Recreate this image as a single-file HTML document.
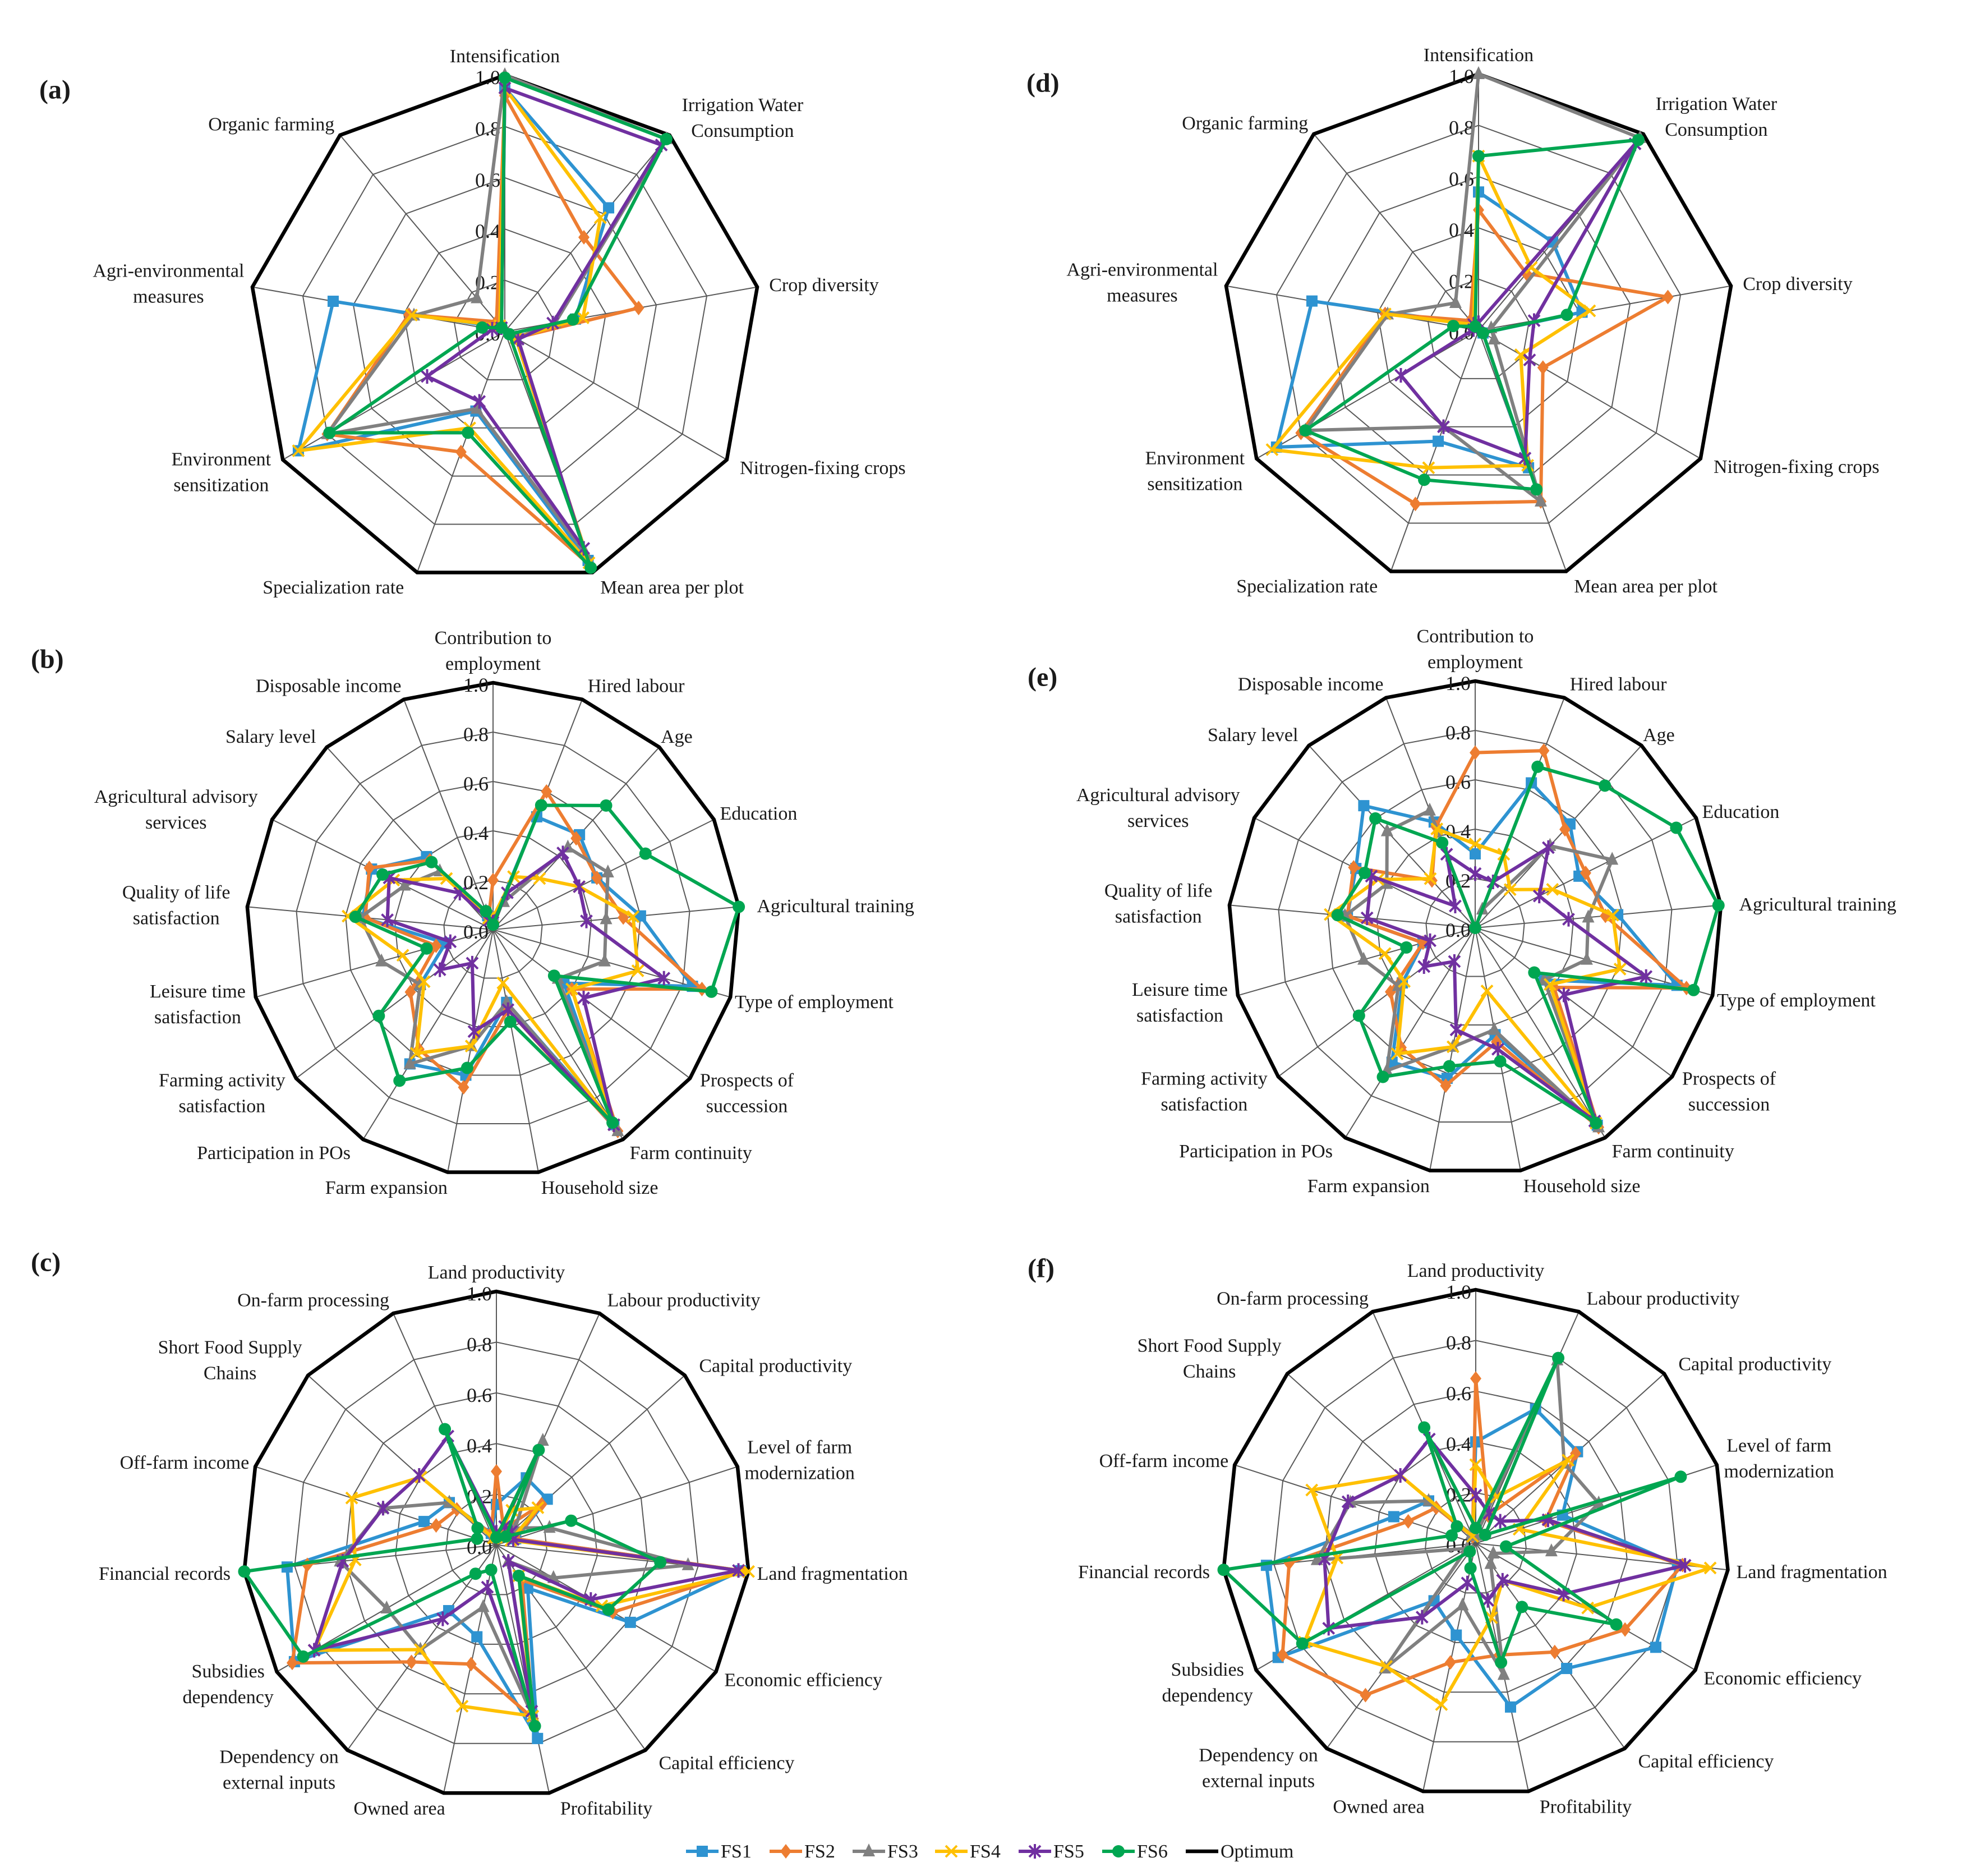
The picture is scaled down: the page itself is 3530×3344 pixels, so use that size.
<!DOCTYPE html>
<html><head><meta charset="utf-8">
<style>
html,body{margin:0;padding:0;background:#fff;}
svg{display:block;}
text{font-family:"Liberation Serif",serif;fill:#1a1a1a;}
</style></head>
<body>
<svg id="fig" xmlns="http://www.w3.org/2000/svg" width="3530" height="3344" viewBox="0 0 3530 3344"></svg>
<script>
// ---------- data ----------
const aCats=[["Intensification"],["Irrigation Water","Consumption"],["Crop diversity"],["Nitrogen-fixing crops"],["Mean area per plot"],["Specialization rate"],["Environment","sensitization"],["Agri-environmental","measures"],["Organic farming"]];
const aFS1=[0.95,0.63,0.28,0.05,0.95,0.33,0.93,0.68,0.02];
const aFS2=[0.92,0.48,0.53,0.05,0.97,0.50,0.80,0.38,0.05];
const aFS3=[1.00,0.98,0.20,0.05,0.92,0.32,0.80,0.36,0.17];
const aFS4=[0.95,0.58,0.31,0.05,0.96,0.40,0.93,0.37,0.03];
const aFS5=[0.95,0.95,0.19,0.06,0.90,0.29,0.35,0.05,0.02];
const aFS6=[0.99,0.98,0.27,0.02,0.98,0.42,0.79,0.09,0.02];

const dFS1=[0.54,0.45,0.41,0.02,0.57,0.46,0.91,0.66,0.03];
const dFS2=[0.47,0.29,0.75,0.29,0.71,0.72,0.80,0.37,0.05];
const dFS3=[1.00,0.98,0.05,0.07,0.71,0.40,0.78,0.36,0.14];
const dFS4=[0.68,0.32,0.44,0.19,0.56,0.57,0.93,0.37,0.03];
const dFS5=[0.03,0.95,0.22,0.23,0.53,0.40,0.35,0.02,0.03];
const dFS6=[0.68,0.97,0.35,0.02,0.66,0.62,0.78,0.10,0.02];

const bCats=[["Contribution to","employment"],["Hired labour"],["Age"],["Education"],["Agricultural training"],["Type of employment"],["Prospects of","succession"],["Farm continuity"],["Household size"],["Farm expansion"],["Participation in POs"],["Farming activity","satisfaction"],["Leisure time","satisfaction"],["Quality of life","satisfaction"],["Agricultural advisory","services"],["Salary level"],["Disposable income"]];
const bFS1=[0.03,0.49,0.52,0.47,0.60,0.84,0.36,0.93,0.30,0.60,0.64,0.37,0.20,0.53,0.55,0.40,0.06];
const bFS2=[0.20,0.60,0.50,0.47,0.53,0.88,0.40,0.96,0.33,0.65,0.57,0.42,0.24,0.52,0.56,0.38,0.05];
const bFS3=[0.05,0.12,0.45,0.52,0.46,0.47,0.33,0.96,0.30,0.48,0.64,0.37,0.47,0.54,0.40,0.32,0.08];
const bFS4=[0.05,0.23,0.28,0.39,0.57,0.61,0.40,0.93,0.22,0.48,0.59,0.35,0.38,0.59,0.45,0.28,0.05];
const bFS5=[0.03,0.16,0.42,0.39,0.38,0.72,0.46,0.93,0.33,0.42,0.16,0.27,0.18,0.43,0.47,0.20,0.04];
const bFS6=[0.02,0.54,0.68,0.69,1.00,0.92,0.31,0.92,0.38,0.57,0.72,0.58,0.28,0.56,0.50,0.37,0.08];

const eFS1=[0.30,0.63,0.57,0.47,0.58,0.85,0.35,0.94,0.44,0.62,0.64,0.37,0.22,0.52,0.54,0.67,0.46];
const eFS2=[0.71,0.77,0.54,0.50,0.53,0.89,0.40,0.95,0.47,0.65,0.57,0.43,0.22,0.52,0.55,0.26,0.44];
const eFS3=[0.00,0.08,0.45,0.62,0.46,0.47,0.35,0.95,0.42,0.49,0.68,0.39,0.47,0.53,0.40,0.53,0.51];
const eFS4=[0.34,0.32,0.21,0.35,0.56,0.61,0.38,0.93,0.26,0.49,0.60,0.36,0.38,0.59,0.44,0.27,0.43];
const eFS5=[0.22,0.20,0.44,0.29,0.38,0.72,0.45,0.92,0.50,0.42,0.16,0.26,0.19,0.44,0.47,0.12,0.32];
const eFS6=[0.00,0.70,0.78,0.91,0.99,0.92,0.30,0.93,0.55,0.57,0.71,0.59,0.29,0.56,0.50,0.60,0.37];

const cCats=[["Land productivity"],["Labour productivity"],["Capital productivity"],["Level of farm","modernization"],["Land fragmentation"],["Economic efficiency"],["Capital efficiency"],["Profitability"],["Owned area"],["Dependency on","external inputs"],["Subsidies","dependency"],["Financial records"],["Off-farm income"],["Short Food Supply","Chains"],["On-farm processing"]];
const cFS1=[0.16,0.29,0.27,0.08,0.97,0.61,0.21,0.78,0.37,0.32,0.92,0.83,0.30,0.25,0.05];
const cFS2=[0.29,0.07,0.24,0.08,0.98,0.53,0.17,0.70,0.48,0.57,0.93,0.75,0.25,0.21,0.05];
const cFS3=[0.03,0.45,0.10,0.22,0.76,0.26,0.08,0.69,0.25,0.51,0.50,0.62,0.47,0.25,0.03];
const cFS4=[0.03,0.15,0.22,0.06,1.00,0.48,0.15,0.69,0.65,0.51,0.83,0.56,0.60,0.40,0.03];
const cFS5=[0.05,0.08,0.08,0.07,0.96,0.43,0.08,0.67,0.17,0.36,0.83,0.61,0.47,0.41,0.47];
const cFS6=[0.03,0.41,0.05,0.31,0.65,0.51,0.15,0.73,0.10,0.14,0.88,1.00,0.08,0.10,0.50];

const fFS1=[0.40,0.58,0.54,0.36,0.80,0.82,0.61,0.66,0.37,0.28,0.90,0.83,0.34,0.25,0.03];
const fFS2=[0.65,0.12,0.53,0.29,0.82,0.68,0.53,0.45,0.48,0.74,0.88,0.74,0.28,0.21,0.03];
const fFS3=[0.03,0.79,0.47,0.51,0.30,0.08,0.10,0.53,0.25,0.61,0.04,0.63,0.52,0.25,0.04];
const fFS4=[0.31,0.20,0.49,0.18,0.93,0.51,0.18,0.30,0.65,0.60,0.78,0.55,0.68,0.40,0.03];
const fFS5=[0.19,0.13,0.13,0.30,0.83,0.40,0.18,0.23,0.16,0.36,0.67,0.60,0.53,0.40,0.45];
const fFS6=[0.06,0.80,0.05,0.85,0.12,0.64,0.31,0.48,0.10,0.04,0.79,1.00,0.10,0.10,0.50];

const tickValues=[0.0,0.2,0.4,0.6,0.8,1.0];
const tickLabels=["0.0","0.2","0.4","0.6","0.8","1.0"];
const seriesNames=["FS1","FS2","FS3","FS4","FS5","FS6"];

// ---------- rendering ----------
const NS="http://www.w3.org/2000/svg";
const svg=document.getElementById('fig');
const colors=["#2E93D1","#ED7D31","#808080","#FFC000","#7030A0","#00A651"];
const FS=34;
function mk(tag,parent){const e=document.createElementNS(NS,tag);parent.appendChild(e);return e;}

function marker(g,k,x,y,col){
  let m;
  if(k===0){m=mk('rect',g);m.setAttribute('x',x-10);m.setAttribute('y',y-10);m.setAttribute('width',20);m.setAttribute('height',20);m.setAttribute('fill',col);}
  else if(k===1){m=mk('polygon',g);m.setAttribute('points',`${x},${y-13} ${x+10},${y} ${x},${y+13} ${x-10},${y}`);m.setAttribute('fill',col);}
  else if(k===2){m=mk('polygon',g);m.setAttribute('points',`${x},${y-14} ${x+11},${y+9} ${x-11},${y+9}`);m.setAttribute('fill',col);}
  else if(k===3){m=mk('path',g);m.setAttribute('d',`M${x-10},${y-10}L${x+10},${y+10}M${x+10},${y-10}L${x-10},${y+10}`);m.setAttribute('stroke',col);m.setAttribute('stroke-width',4);}
  else if(k===4){m=mk('path',g);m.setAttribute('d',`M${x-10},${y-10}L${x+10},${y+10}M${x+10},${y-10}L${x-10},${y+10}M${x},${y-13}L${x},${y+13}`);m.setAttribute('stroke',col);m.setAttribute('stroke-width',4);}
  else {m=mk('circle',g);m.setAttribute('cx',x);m.setAttribute('cy',y);m.setAttribute('r',11);m.setAttribute('fill',col);}
  
  
}

function drawChart(cfg){
  const {id,cx,cy,R,cats,series,letter,lx,ly}=cfg;
  const n=cats.length;
  const g=mk('g',svg);
  
  
  const ang=i=>i*2*Math.PI/n;
  const pt=(i,v)=>[cx+R*v*Math.sin(ang(i)),cy-R*v*Math.cos(ang(i))];
  for(let t=1;t<tickValues.length-1;t++){
    const p=mk('polygon',g);
    p.setAttribute('points',cats.map((c,i)=>pt(i,tickValues[t]).join(',')).join(' '));
    p.setAttribute('fill','none');p.setAttribute('stroke','#595959');p.setAttribute('stroke-width',2);
    
    
  }
  cats.forEach((c,i)=>{
    const l=mk('line',g);const e=pt(i,1);
    l.setAttribute('x1',cx);l.setAttribute('y1',cy);l.setAttribute('x2',e[0]);l.setAttribute('y2',e[1]);
    l.setAttribute('stroke','#595959');l.setAttribute('stroke-width',2);
    
    
  });
  const opt=mk('polygon',g);
  opt.setAttribute('points',cats.map((c,i)=>pt(i,1).join(',')).join(' '));
  opt.setAttribute('fill','none');opt.setAttribute('stroke','#000');opt.setAttribute('stroke-width',6.5);opt.setAttribute('stroke-linejoin','miter');
  
  
  tickValues.forEach((v,t)=>{
    const tx=mk('text',g);
    tx.setAttribute('x',cx-8);tx.setAttribute('y',cy-R*v+4);
    tx.setAttribute('text-anchor','end');tx.setAttribute('dominant-baseline','central');
    tx.setAttribute('font-size',36);
    tx.textContent=tickLabels[t];
    
    
  });
  series.forEach((vals,k)=>{
    const sg=mk('g',g);
    
    
    const p=mk('polygon',sg);
    p.setAttribute('points',vals.map((v,i)=>pt(i,v).join(',')).join(' '));
    p.setAttribute('fill','none');p.setAttribute('stroke',colors[k]);p.setAttribute('stroke-width',6);p.setAttribute('stroke-linejoin','round');
    
    
    vals.forEach((v,i)=>{const q=pt(i,v);marker(sg,k,q[0],q[1],colors[k]);});
  });
  const pad=12,L=46;
  cats.forEach((lines,i)=>{
    const s=Math.sin(ang(i)),c=Math.cos(ang(i));
    const px=cx+(R+pad)*s,py=cy-(R+pad)*c;
    const w=Math.max(...lines.map(t=>t.length))*FS*0.45;
    const h=lines.length*L;
    let x,yc;
    if(Math.abs(s)<0.06){x=px;yc=py-Math.sign(c)*(h/2);}
    else{x=px+Math.sign(s)*w/2;yc=py-c*(h/2)*0.65;}
    const tx=mk('text',g);
    tx.setAttribute('text-anchor','middle');tx.setAttribute('font-size',FS);
    
    
    lines.forEach((ln,j)=>{
      const ts=mk('tspan',tx);
      ts.setAttribute('x',x);
      ts.setAttribute('y',yc-h/2+L*j+L/2+12);
      ts.textContent=ln;
    });
  });
  const pl=mk('text',g);
  pl.setAttribute('x',lx);pl.setAttribute('y',ly);pl.setAttribute('font-size',48);pl.setAttribute('font-weight','bold');
  pl.setAttribute('dominant-baseline','central');
  pl.textContent=letter;
  
  
}

drawChart({id:'a',cx:900,cy:591,R:457,cats:aCats,series:[aFS1,aFS2,aFS3,aFS4,aFS5,aFS6],letter:'(a)',lx:70,ly:160});
drawChart({id:'d',cx:2636,cy:589,R:457,cats:aCats,series:[dFS1,dFS2,dFS3,dFS4,dFS5,dFS6],letter:'(d)',lx:1830,ly:148});
drawChart({id:'b',cx:879,cy:1657,R:440,cats:bCats,series:[bFS1,bFS2,bFS3,bFS4,bFS5,bFS6],letter:'(b)',lx:55,ly:1175});
drawChart({id:'e',cx:2630,cy:1654,R:440,cats:bCats,series:[eFS1,eFS2,eFS3,eFS4,eFS5,eFS6],letter:'(e)',lx:1832,ly:1207});
drawChart({id:'c',cx:885,cy:2754,R:452,cats:cCats,series:[cFS1,cFS2,cFS3,cFS4,cFS5,cFS6],letter:'(c)',lx:55,ly:2250});
drawChart({id:'f',cx:2631,cy:2751,R:452,cats:cCats,series:[fFS1,fFS2,fFS3,fFS4,fFS5,fFS6],letter:'(f)',lx:1832,ly:2261});

const lg=mk('g',svg);


const legX=[1223,1372,1520,1667,1816,1965];
const LY=3300;
seriesNames.forEach((nm,k)=>{
  const eg=mk('g',lg);
  
  
  const l=mk('line',eg);
  l.setAttribute('x1',legX[k]);l.setAttribute('x2',legX[k]+58);l.setAttribute('y1',LY);l.setAttribute('y2',LY);
  l.setAttribute('stroke',colors[k]);l.setAttribute('stroke-width',6);
  marker(eg,k,legX[k]+29,LY,colors[k]);
  const t=mk('text',eg);
  t.setAttribute('x',legX[k]+62);t.setAttribute('y',LY+11);t.setAttribute('font-size',FS);
  t.textContent=nm;
});
const og=mk('g',lg);


const ol=mk('line',og);
ol.setAttribute('x1',2114);ol.setAttribute('x2',2172);ol.setAttribute('y1',LY);ol.setAttribute('y2',LY);
ol.setAttribute('stroke','#000');ol.setAttribute('stroke-width',6.5);
const ot=mk('text',og);
ot.setAttribute('x',2176);ot.setAttribute('y',LY+11);ot.setAttribute('font-size',FS);
ot.textContent='Optimum';
</script>
</body></html>
